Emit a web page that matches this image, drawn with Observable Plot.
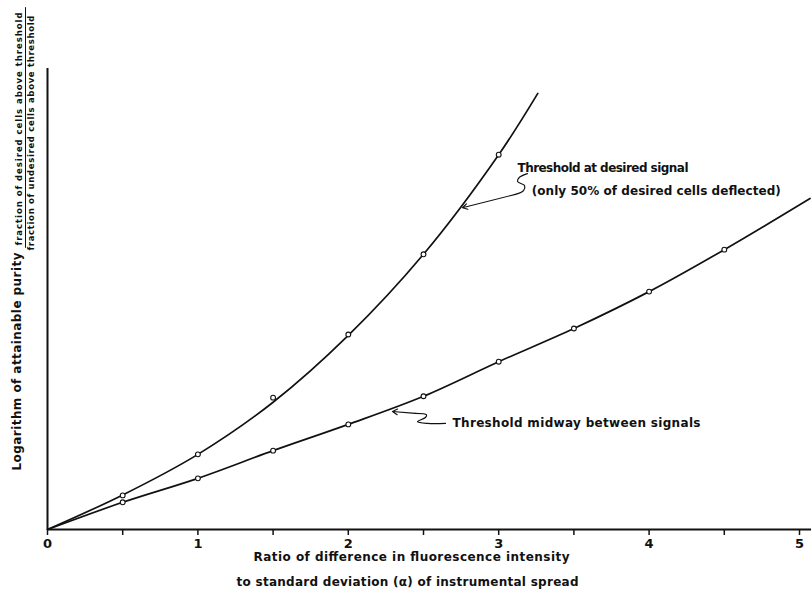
<!DOCTYPE html>
<html>
<head>
<meta charset="utf-8">
<script src="https://cdn.jsdelivr.net/npm/d3@7"></script>
<script src="https://cdn.jsdelivr.net/npm/@observablehq/plot@0.6"></script>
<style>
  html, body { margin: 0; padding: 0; background: #fff; }
  #chart svg { display: block; }
</style>
</head>
<body>
<div id="chart"></div>
<script>
// Ratio of fluorescence difference to instrumental spread (x)
const xTicks = [0, 0.5, 1, 1.5, 2, 2.5, 3, 3.5, 4, 4.5, 5];
const tickLabels = ["0", "1", "2", "3", "4", "5"];

// Measured points: threshold at desired signal
const desiredX = [0.5, 1, 1.5, 2, 2.5, 3];
const desiredY = [0.74, 1.63, 2.86, 4.23, 5.97, 8.13];

// Measured points: threshold midway between signals
const midwayX = [0.5, 1, 1.5, 2, 2.5, 3, 3.5, 4, 4.5];
const midwayY = [0.59, 1.11, 1.71, 2.28, 2.89, 3.64, 4.36, 5.16, 6.07];

// Smooth fitted curves
const desiredCurveX = [0, 0.5, 1, 1.5, 2, 2.5, 3, 3.26];
const desiredCurveY = [0, 0.75, 1.63, 2.76, 4.21, 5.97, 8.13, 9.46];
const midwayCurveX = [0, 0.5, 1, 1.5, 2, 2.5, 3, 3.5, 4, 4.5, 5.07];
const midwayCurveY = [0, 0.59, 1.11, 1.71, 2.28, 2.89, 3.64, 4.36, 5.16, 6.07, 7.18];

// Curve labels and their leader squiggles
const desiredLabel = ["Threshold at desired signal", "(only 50% of desired cells deflected)"];
const midwayLabel = "Threshold midway between signals";
const desiredLeaderX = [3.191, 3.138, 3.125, 3.172, 3.165, 3.112];
const desiredLeaderY = [7.72, 7.64, 7.55, 7.46, 7.35, 7.27];
const desiredArrowTip = [2.759, 6.98];
const midwayLeaderX = [2.646, 2.527, 2.460, 2.513, 2.520, 2.447];
const midwayLeaderY = [2.30, 2.30, 2.34, 2.43, 2.49, 2.52];
const midwayArrowTip = [2.294, 2.56];

const xTitle = ["Ratio of difference in fluorescence intensity", "to standard deviation (α) of instrumental spread"];
const yTitle = "Logarithm of attainable purity";
const yFraction = ["fraction of desired cells above threshold", "fraction of undesired cells above threshold"];

const zip = (xs, ys) => xs.map((x, i) => ({x, y: ys[i]}));
const font = "DejaVu Sans, Liberation Sans, sans-serif";

const chart = Plot.plot({
  width: 812,
  height: 594,
  marginLeft: 47,
  marginRight: 13,
  marginTop: 68,
  marginBottom: 65,
  style: {fontFamily: font, background: "#fff", color: "#111"},
  x: {domain: [0, 5]},
  y: {domain: [0, 10]},
  marks: [
    // axes
    Plot.ruleX([0], {y1: 0, y2: 10, strokeWidth: 2, stroke: "#111"}),
    Plot.ruleY([0], {x1: 0, x2: 5.08, strokeWidth: 2.2, stroke: "#111"}),
    Plot.axisX({
      ticks: xTicks,
      tickSize: 6,
      tickPadding: 3,
      strokeWidth: 1.5,
      fontSize: 13,
      fontWeight: 600,
      tickFormat: d => Number.isInteger(d) ? tickLabels[d] : "",
      label: null
    }),
    Plot.axisY({ticks: [], label: null}),

    // fitted curves
    Plot.line(zip(desiredCurveX, desiredCurveY), {x: "x", y: "y", curve: "catmull-rom", stroke: "#111", strokeWidth: 1.7}),
    Plot.line(zip(midwayCurveX, midwayCurveY), {x: "x", y: "y", curve: "catmull-rom", stroke: "#111", strokeWidth: 1.7}),

    // measured points
    Plot.dot(zip(desiredX, desiredY), {x: "x", y: "y", r: 2.4, fill: "#fff", stroke: "#111", strokeWidth: 1.1}),
    Plot.dot(zip(midwayX, midwayY), {x: "x", y: "y", r: 2.4, fill: "#fff", stroke: "#111", strokeWidth: 1.1}),

    // leaders
    Plot.line(zip(desiredLeaderX, desiredLeaderY), {x: "x", y: "y", curve: "catmull-rom", stroke: "#111", strokeWidth: 1.2}),
    Plot.arrow([0], {
      x1: () => desiredLeaderX[desiredLeaderX.length - 1], y1: () => desiredLeaderY[desiredLeaderY.length - 1],
      x2: () => desiredArrowTip[0], y2: () => desiredArrowTip[1],
      stroke: "#111", strokeWidth: 1.2, headLength: 7
    }),
    Plot.line(zip(midwayLeaderX, midwayLeaderY), {x: "x", y: "y", curve: "catmull-rom", stroke: "#111", strokeWidth: 1.2}),
    Plot.arrow([0], {
      x1: () => midwayLeaderX[midwayLeaderX.length - 1], y1: () => midwayLeaderY[midwayLeaderY.length - 1],
      x2: () => midwayArrowTip[0], y2: () => midwayArrowTip[1],
      stroke: "#111", strokeWidth: 1.2, headLength: 7
    }),

    // curve labels
    Plot.text([{x: 3.125, y: 7.83, t: desiredLabel[0]}, {x: 3.22, y: 7.35, t: desiredLabel[1]}],
      {x: "x", y: "y", text: "t", textAnchor: "start", fontSize: 12, fontWeight: "bold", fill: "#111"}),
    Plot.text([{x: 2.693, y: 2.30, t: midwayLabel}],
      {x: "x", y: "y", text: "t", textAnchor: "start", fontSize: 12, fontWeight: "bold", fill: "#111"}),

    // x title
    Plot.text([xTitle[0]], {frameAnchor: "bottom", dx: -12, dy: 31, fontSize: 12, fontWeight: "bold", fill: "#111"}),
    Plot.text([xTitle[1]], {frameAnchor: "bottom", dx: -16, dy: 56, fontSize: 12, fontWeight: "bold", fill: "#111"}),

    // y title with fraction
    Plot.text([yTitle], {y: () => 1.28, frameAnchor: "left", dx: -30, rotate: -90, textAnchor: "start", fontSize: 12, fontWeight: "bold", fill: "#111"}),
    Plot.text([yFraction[0]], {y: () => 6.16, frameAnchor: "left", dx: -28, rotate: -90, textAnchor: "start", fontSize: 8.5, fontWeight: "bold", fill: "#111"}),
    Plot.text([yFraction[1]], {y: () => 6.05, frameAnchor: "left", dx: -16.5, rotate: -90, textAnchor: "start", fontSize: 8.5, fontWeight: "bold", fill: "#111"}),
    Plot.ruleX([0], {y1: 6.10, y2: 11.32, dx: -22, stroke: "#111", strokeWidth: 1})
  ]
});

// stretch lettering to the spacing of the drawn labels
const spans = new Map([
  [xTitle[0], 316], [xTitle[1], 342],
  [desiredLabel[0], 171], [desiredLabel[1], 249],
  [midwayLabel, 248], [yTitle, 218],
  [yFraction[0], 233], [yFraction[1], 235]
]);
d3.select(chart).selectAll("text").each(function () {
  const w = spans.get(this.textContent);
  if (w) d3.select(this).attr("textLength", w).attr("lengthAdjust", "spacing");
});

document.getElementById("chart").append(chart);
</script>
</body>
</html>
